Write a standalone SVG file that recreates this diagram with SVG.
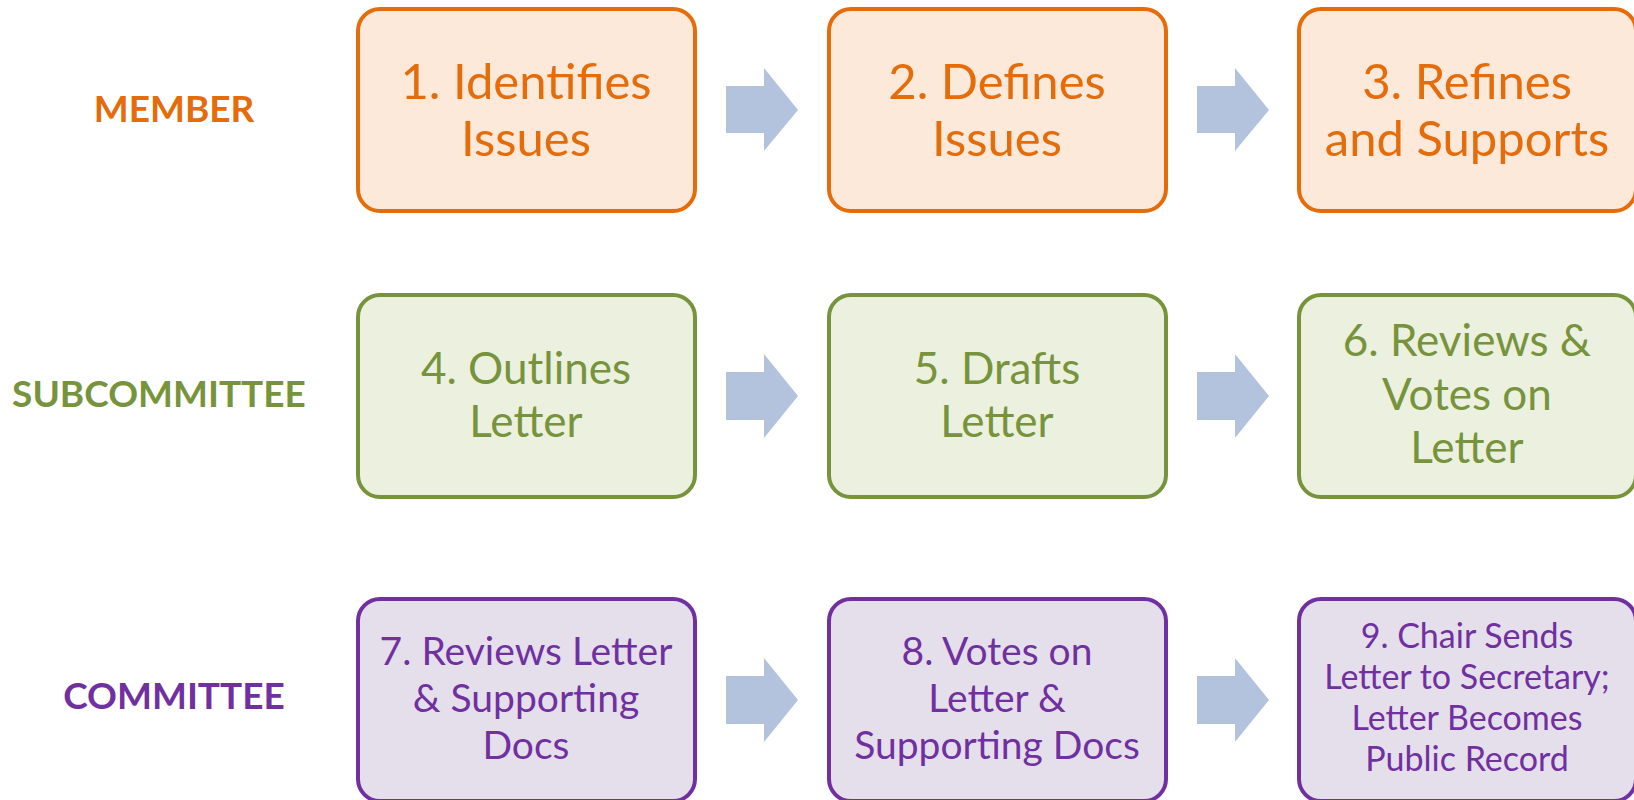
<svg xmlns="http://www.w3.org/2000/svg" width="1634" height="800" viewBox="0 0 1634 800">
<style>
.box{stroke-width:4}
.o{fill:#FDE9D9;stroke:#E46C0A}
.g{fill:#EBF1DE;stroke:#77933C}
.p{fill:#E5DFEC;stroke:#7030A0}
.t{font-family:Lato,"Open Sans",sans-serif;text-anchor:middle}
.to{fill:#E46C0A}
.tg{fill:#77933C}
.tp{fill:#7030A0}
.lab{font-family:Lato,"Open Sans",sans-serif;font-weight:bold;font-size:37px;text-anchor:middle}
.arr{fill:#B3C3DD}
</style>
<rect width="1634" height="800" fill="#fff"/>
<g id="lanes">
<text class="lab to" x="174" y="122">MEMBER</text>
<text class="lab tg" x="159" y="407">SUBCOMMITTEE</text>
<text class="lab tp" x="174" y="709">COMMITTEE</text>
</g>
<g id="connectors">
<polygon class="arr" points="726,86 764,86 764,68 798,110 764,151 764,133 726,133"/>
<polygon class="arr" points="1197,86 1235,86 1235,68 1269,110 1235,151 1235,133 1197,133"/>
<polygon class="arr" points="726,372 764,372 764,354 798,396 764,438 764,420 726,420"/>
<polygon class="arr" points="1197,372 1235,372 1235,354 1269,396 1235,438 1235,420 1197,420"/>
<polygon class="arr" points="726,676 764,676 764,658 798,700 764,742 764,724 726,724"/>
<polygon class="arr" points="1197,676 1235,676 1235,658 1269,700 1235,742 1235,724 1197,724"/>
</g>
<g id="n1">
<rect class="box o" x="358" y="9" width="337" height="202" rx="22"/>
<text class="t to" font-size="49"><tspan x="526" y="99">1. Identifies</tspan><tspan x="526" y="156">Issues</tspan></text>
</g>
<g id="n2">
<rect class="box o" x="829" y="9" width="337" height="202" rx="22"/>
<text class="t to" font-size="49"><tspan x="997" y="99">2. Defines</tspan><tspan x="997" y="156">Issues</tspan></text>
</g>
<g id="n3">
<rect class="box o" x="1299" y="9" width="337" height="202" rx="22"/>
<text class="t to" font-size="49"><tspan x="1467" y="99">3. Refines</tspan><tspan x="1467" y="156">and Supports</tspan></text>
</g>
<g id="n4">
<rect class="box g" x="358" y="295" width="337" height="202" rx="22"/>
<text class="t tg" font-size="44"><tspan x="526" y="384">4. Outlines</tspan><tspan x="526" y="437">Letter</tspan></text>
</g>
<g id="n5">
<rect class="box g" x="829" y="295" width="337" height="202" rx="22"/>
<text class="t tg" font-size="44"><tspan x="997" y="384">5. Drafts</tspan><tspan x="997" y="437">Letter</tspan></text>
</g>
<g id="n6">
<rect class="box g" x="1299" y="295" width="337" height="202" rx="22"/>
<text class="t tg" font-size="44"><tspan x="1467" y="356">6. Reviews &amp;</tspan><tspan x="1467" y="410">Votes on</tspan><tspan x="1467" y="463">Letter</tspan></text>
</g>
<g id="n7">
<rect class="box p" x="358" y="599" width="337" height="202" rx="22"/>
<text class="t tp" font-size="39"><tspan x="526" y="665">7. Reviews Letter</tspan><tspan x="526" y="712">&amp; Supporting</tspan><tspan x="526" y="759">Docs</tspan></text>
</g>
<g id="n8">
<rect class="box p" x="829" y="599" width="337" height="202" rx="22"/>
<text class="t tp" font-size="39"><tspan x="997" y="665">8. Votes on</tspan><tspan x="997" y="712">Letter &amp;</tspan><tspan x="997" y="759">Supporting Docs</tspan></text>
</g>
<g id="n9">
<rect class="box p" x="1299" y="599" width="337" height="202" rx="22"/>
<text class="t tp" font-size="34"><tspan x="1467" y="648">9. Chair Sends</tspan><tspan x="1467" y="689">Letter to Secretary;</tspan><tspan x="1467" y="730">Letter Becomes</tspan><tspan x="1467" y="771">Public Record</tspan></text>
</g>
</svg>
